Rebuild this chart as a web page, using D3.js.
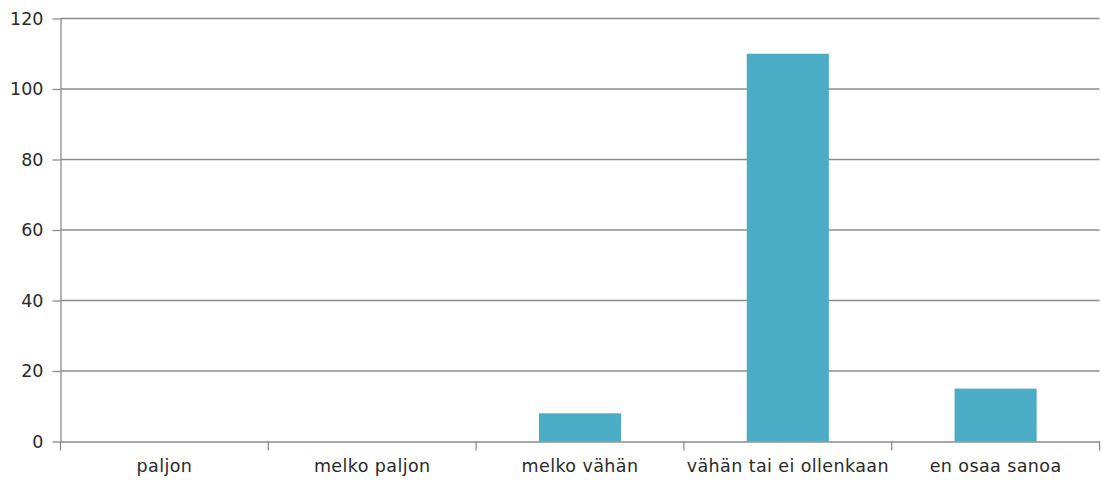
<!DOCTYPE html>
<html><head><meta charset="utf-8">
<script src="https://cdn.jsdelivr.net/npm/d3@7"></script>
<style>body{margin:0;background:#fff}text{font-family:"DejaVu Sans",sans-serif}</style>
</head><body><svg id="c" width="1101" height="480"></svg>
<script>
const categories = ["paljon", "melko paljon", "melko vähän", "vähän tai ei ollenkaan", "en osaa sanoa"];
const values = [0, 0, 8, 110, 15];
const yTicks = [0, 20, 40, 60, 80, 100, 120];

const svg = d3.select("#c");
const mLeft = 60.5, mRight = 1099.5, mTop = 18.5, mBottom = 441.5;
const x = d3.scaleBand().domain(categories).range([mLeft, mRight]).padding(0);
const y = d3.scaleLinear().domain([0, 120]).range([mBottom, mTop]);
const grid = "#8c8c8c", txt = "#2a2a2a";

// gridlines
svg.append("g").selectAll("line").data(yTicks.filter(d => d > 0)).join("line")
  .attr("x1", mLeft).attr("x2", mRight).attr("y1", d => y(d)).attr("y2", d => y(d))
  .attr("stroke", grid).attr("stroke-width", 1.3);

// bars
const bw = x.bandwidth() * 0.395;
svg.append("g").selectAll("rect").data(categories).join("rect")
  .attr("x", (d) => x(d) + (x.bandwidth() - bw) / 2)
  .attr("width", bw)
  .attr("y", (d, i) => y(values[i]))
  .attr("height", (d, i) => y(0) - y(values[i]))
  .attr("fill", "#4bacc6");

// y axis
const ya = svg.append("g").attr("transform", `translate(${mLeft},0)`)
  .call(d3.axisLeft(y).tickValues(yTicks).tickSize(8).tickPadding(9).tickSizeOuter(0));
ya.select(".domain").attr("stroke", grid).attr("stroke-width", 1.3);
ya.selectAll(".tick line").attr("stroke", grid).attr("stroke-width", 1.3);
ya.selectAll(".tick text").attr("font-size", 17.5).attr("fill", txt).attr("font-family", "DejaVu Sans");

// x axis
const xa = svg.append("g").attr("transform", `translate(0,${mBottom})`)
  .call(d3.axisBottom(x).tickSize(0).tickPadding(18).tickSizeOuter(0));
xa.select(".domain").attr("stroke", grid).attr("stroke-width", 1.3);
xa.selectAll(".tick text").attr("font-size", 17.5).attr("fill", txt).attr("font-family", "DejaVu Sans")
  .attr("letter-spacing", "0.4px");
const bounds = categories.map(c => x(c)).concat([mRight]);
xa.append("g").selectAll("line").data(bounds).join("line")
  .attr("x1", d => d).attr("x2", d => d).attr("y1", 0).attr("y2", 9)
  .attr("stroke", grid).attr("stroke-width", 1.3);
</script></body></html>
